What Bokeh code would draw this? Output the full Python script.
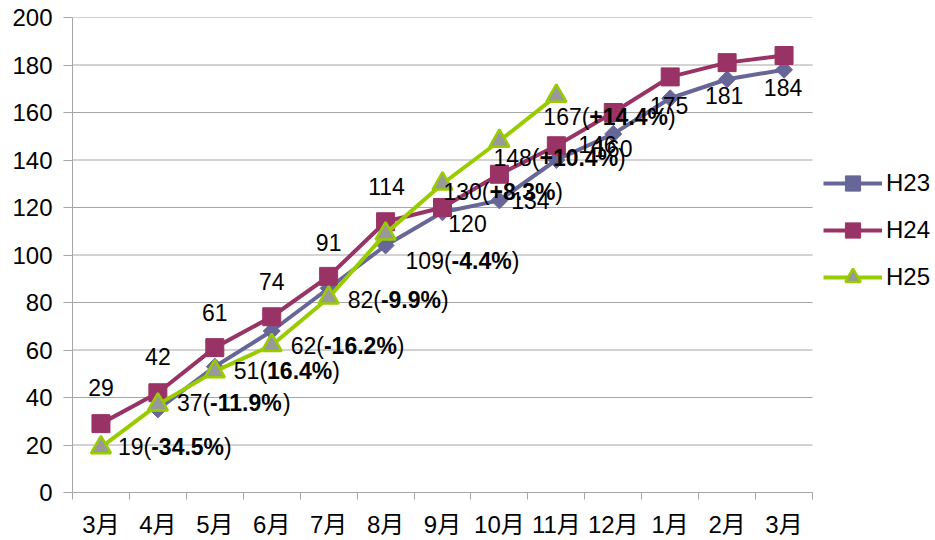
import numpy as np
from bokeh.plotting import figure
from bokeh.models import ColumnDataSource, Range1d, FixedTicker, Legend, LegendItem
from bokeh.core.properties import value
from bokeh.embed import file_html
from bokeh.resources import INLINE

# ---------------- data ----------------
months = ["3月", "4月", "5月", "6月", "7月", "8月", "9月", "10月", "11月", "12月", "1月", "2月", "3月"]
h23 = [np.nan, 35, 53, 68, 86, 104, 118, 123, 140, 151, 166, 174, 178]
h24 = [29, 42, 61, 74, 91, 114, 120, 134, 146, 160, 175, 181, 184]
h25 = [19, 37, 51, 62, 82, 109, 130, 148, 167]
h25_pct = ["-34.5%", "-11.9%", "16.4%", "-16.2%", "-9.9%", "-4.4%", "+8.3%", "+10.4%", "+14.4%"]
y_ticks = list(range(0, 201, 20))

# ---------------- label placement (screen px) ----------------
h24_lab_dx = [0, 0, 0, 0, 0, 1, 25, 31, 41, 0, -1, -3, -1]
h24_lab_dy = [-36, -36, -35, -35, -34, -35, 16, 26, -1, 36, 29, 33, 32]
h25_lab_dx = [17, 19, 19, 19, 19, 20, 1, -6, -13]
h25_lab_dy = [0, -2, 0, 1, 2, 27, 8, 17, 21]

FONT = "Liberation Sans"
FS = 23
C23, C24, C25, CFILL25 = "#666699", "#993366", "#99CC00", "#999999"
GRID = "#a6a6a6"

W_REG = {**{d: 0.556 for d in "0123456789"}, "(": 0.333, ")": 0.333}
W_BOLD = {**{d: 0.556 for d in "0123456789"}, "-": 0.333, "+": 0.584, ".": 0.278, "%": 0.889}


def tw(s, table):
    return sum(table.get(ch, 0.556) for ch in s) * FS


n = len(months)
xs = [i + 0.5 for i in range(n)]
xs25 = xs[:len(h25)]

W, H = 935, 540
LEFT, TOP, BOTTOM = 72, 17, 47
PLOT_W = 740  # pixel width of the category area; the rest of the frame holds the legend
x_end = n * (W - LEFT) / PLOT_W

p = figure(width=W, height=H, output_backend="svg", toolbar_location=None,
           x_range=Range1d(0, x_end), y_range=Range1d(0, 200),
           min_border_left=LEFT, min_border_right=0, min_border_top=TOP, min_border_bottom=BOTTOM)
p.outline_line_color = None
p.background_fill_color = "white"
p.border_fill_color = "white"

# grid (drawn only across the category area)
p.xgrid.grid_line_color = None
p.ygrid.grid_line_color = None
p.segment(x0=0, x1=n, y0=y_ticks[1:], y1=y_ticks[1:], line_color=GRID, line_width=1)

# y axis
p.yaxis.ticker = FixedTicker(ticks=y_ticks)
p.yaxis.axis_line_color = GRID
p.yaxis.major_tick_line_color = GRID
p.yaxis.major_tick_out = 9
p.yaxis.major_tick_in = 0
p.yaxis.minor_tick_line_color = None
p.yaxis.major_label_text_font = FONT
p.yaxis.major_label_text_font_size = "24px"
p.yaxis.major_label_text_color = "black"
p.yaxis.major_label_standoff = 11

# x axis
p.xaxis.bounds = (0, n)
p.xaxis.ticker = FixedTicker(ticks=xs, minor_ticks=list(range(n + 1)))
p.xaxis.major_label_overrides = {x: m for x, m in zip(xs, months)}
p.xaxis.axis_line_color = GRID
p.xaxis.major_tick_line_color = None
p.xaxis.major_tick_out = 0
p.xaxis.major_tick_in = 0
p.xaxis.minor_tick_line_color = GRID
p.xaxis.minor_tick_out = 7
p.xaxis.minor_tick_in = 0
p.xaxis.major_label_text_font = "Liberation Sans, Noto Sans CJK JP"
p.xaxis.major_label_text_font_size = "24px"
p.xaxis.major_label_text_color = "black"
p.xaxis.major_label_standoff = 11

# series
src23 = ColumnDataSource(dict(x=xs, y=h23))
src24 = ColumnDataSource(dict(x=xs, y=h24))
src25 = ColumnDataSource(dict(x=xs25, y=h25))

l23 = p.line("x", "y", source=src23, line_color=C23, line_width=4)
m23 = p.scatter("x", "y", source=src23, marker="square", angle=np.pi / 4, size=12,
                fill_color=C23, line_color=C23)
l24 = p.line("x", "y", source=src24, line_color=C24, line_width=4)
m24 = p.scatter("x", "y", source=src24, marker="square", size=18,
                fill_color=C24, line_color=C24)
l25 = p.line("x", "y", source=src25, line_color=C25, line_width=4)
m25 = p.scatter("x", "y", source=src25, marker="triangle", size=20,
                fill_color=CFILL25, line_color=C25, line_width=2.5)

# H24 value labels
lab24 = ColumnDataSource(dict(x=xs, y=h24, t=[str(v) for v in h24],
                              dx=h24_lab_dx, dy=h24_lab_dy))
p.text("x", "y", text="t", source=lab24, x_offset="dx", y_offset="dy",
       text_font=value(FONT), text_font_size=f"{FS}px", text_align="center",
       text_baseline="middle", text_color="black")

# H25 labels: "19(" normal, "-34.5%" bold, ")" normal
pre = [f"{v}(" for v in h25]
pre_w = [tw(s, W_REG) for s in pre]
bold_w = [tw(s, W_BOLD) for s in h25_pct]
lab25 = ColumnDataSource(dict(
    x=xs25, y=h25, pre=pre, pct=h25_pct, suf=[")"] * len(h25),
    dx0=h25_lab_dx,
    dx1=[d + a for d, a in zip(h25_lab_dx, pre_w)],
    dx2=[d + a + b for d, a, b in zip(h25_lab_dx, pre_w, bold_w)],
    dy=h25_lab_dy))
common = dict(source=lab25, y_offset="dy", text_font=value(FONT), text_font_size=f"{FS}px",
              text_align="left", text_baseline="middle", text_color="black")
p.text("x", "y", text="pre", x_offset="dx0", **common)
p.text("x", "y", text="pct", x_offset="dx1", text_font_style="bold", **common)
p.text("x", "y", text="suf", x_offset="dx2", **common)

# legend (inside the frame, to the right of the category area)
legend = Legend(items=[LegendItem(label="H23", renderers=[l23, m23]),
                       LegendItem(label="H24", renderers=[l24, m24]),
                       LegendItem(label="H25", renderers=[l25, m25])],
                location=(PLOT_W + 11, 196), orientation="vertical",
                glyph_width=59, glyph_height=38, spacing=9, label_standoff=4,
                padding=0, margin=0, border_line_color=None, background_fill_alpha=0,
                label_text_font=FONT, label_text_font_size="24px", label_text_color="black")
p.add_layout(legend)

open("out.html", "w").write(file_html(p, INLINE))
